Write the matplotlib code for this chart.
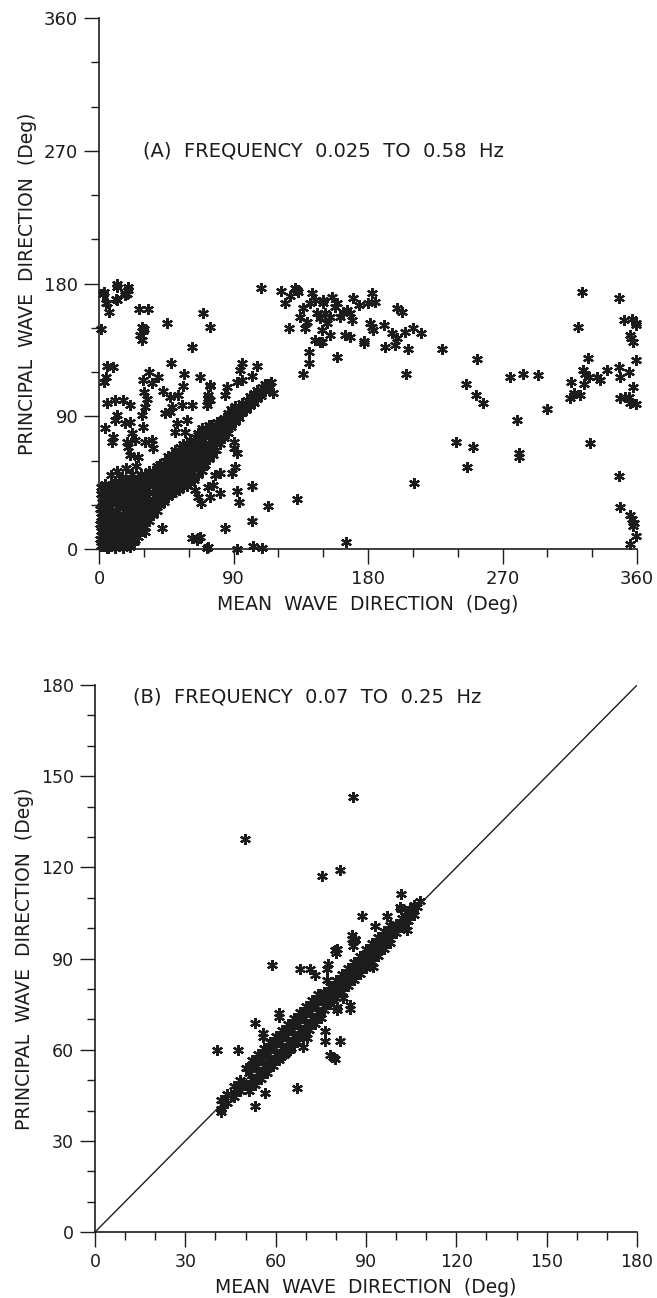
import matplotlib.pyplot as plt
from matplotlib.ticker import MultipleLocator

plt.rcParams['font.family'] = ['DejaVu Sans']

INK = '#1c1c1c'

# ---- panel A : 0.025 - 0.58 Hz ----
# thick cluster from the origin along the diagonal (one line per column of the cluster)
a_band_x = [1, 0.5, 1.5, 0.8, 1.2, 0.6, 1.7, 1, 1.4,
            3.2, 3.8, 3.5, 3.1, 3.9, 3.3, 3.6, 3.4, 3.7,
            6, 6.3, 5.8, 6.2, 5.9, 6.4, 6.1, 5.7, 6.3,
            8.6, 8.2, 8.8, 8.4, 8.7, 8.3, 8.9, 8.5, 8.2,
            11, 11.3, 10.8, 11.2, 10.9, 11.4, 11.1, 10.7, 11.3, 11,
            13.6, 13.2, 13.8, 13.4, 13.7, 13.3, 13.9, 13.5, 13.2,
            16, 16.3, 15.8, 16.2, 15.9, 16.4, 16.1, 15.7, 16.3, 16,
            18.6, 18.2, 18.8, 18.4, 18.7, 18.3, 18.9, 18.5, 18.2,
            21, 21.3, 20.8, 21.2, 20.9, 21.4, 21.1, 20.7, 21.3, 21,
            23.6, 23.2, 23.8, 23.4, 23.7, 23.3, 23.9, 23.5, 23.2,
            26, 26.3, 25.8, 26.2, 25.9, 26.4, 26.1, 25.7, 26.3,
            28.6, 28.2, 28.8, 28.4, 28.7, 28.3, 28.9, 28.5, 28.2,
            31, 31.3, 30.8, 31.2, 30.9, 31.4, 31.1, 30.7,
            33.6, 33.2, 33.8, 33.4, 33.7, 33.3, 33.9, 33.5,
            36, 36.3, 35.8, 36.2, 35.9, 36.4, 36.1,
            38.6, 38.2, 38.8, 38.4, 38.7, 38.3, 38.9,
            41, 41.3, 40.8, 41.2, 40.9, 41.4, 41.1,
            43.6, 43.2, 43.8, 43.4, 43.7, 43.3, 43.9,
            46, 46.3, 45.8, 46.2, 45.9, 46.4, 46.1,
            48.6, 48.2, 48.8, 48.4, 48.7, 48.3, 48.9,
            51, 51.3, 50.8, 51.2, 50.9, 51.4, 51.1,
            53.6, 53.2, 53.8, 53.4, 53.7, 53.3, 53.9,
            56, 56.3, 55.8, 56.2, 55.9, 56.4, 56.1,
            58.6, 58.2, 58.8, 58.4, 58.7, 58.3, 58.9,
            61, 61.3, 60.8, 61.2, 60.9, 61.4, 61.1,
            63.6, 63.2, 63.8, 63.4, 63.7, 63.3, 63.9,
            66, 66.3, 65.8, 66.2, 65.9, 66.4, 66.1,
            68.6, 68.2, 68.8, 68.4, 68.7, 68.3, 68.9,
            71, 71.3, 70.8, 71.2, 70.9, 71.4,
            73.6, 73.2, 73.8, 73.4, 73.7, 73.3,
            76, 76.3, 75.8, 76.2, 75.9,
            78.6, 78.2, 78.8, 78.4, 78.7,
            81, 81.3, 80.8, 81.2,
            83.6, 83.2, 83.8, 83.4,
            86, 86.3, 85.8, 86.2,
            88.6, 88.2, 88.8, 88.4,
            91, 91.3, 90.8, 91.2,
            93.6, 93.2, 93.8,
            96, 96.3, 95.8,
            98.6, 98.2, 98.8,
            101, 101.3, 100.8,
            103.6, 103.2, 103.8,
            106, 106.3, 105.8,
            108.6, 108.2, 108.8,
            111, 111.3, 110.8,
            113.6, 113.2, 115]
a_band_y = [2, 7, 12, 17, 22, 27, 32, 37, 42,
            4.5, 9.5, 14.5, 19.5, 24.5, 29.5, 34.5, 39.5, 44,
            1, 6, 11, 16, 21, 26, 31, 36, 41,
            3.5, 8.5, 13.5, 18.5, 23.5, 28.5, 33.5, 38.5, 43,
            1, 6, 11, 16, 21, 26, 31, 36, 41, 46,
            3.5, 8.5, 13.5, 18.5, 23.5, 28.5, 33.5, 38.5, 43.5,
            1, 6, 11, 16, 21, 26, 31, 36, 41, 46,
            3.5, 8.5, 13.5, 18.5, 23.5, 28.5, 33.5, 38.5, 43.5,
            2, 7, 12, 17, 22, 27, 32, 37, 42, 47,
            5, 10, 15, 20, 25, 30, 35, 40, 45,
            8, 13, 18, 23, 28, 33, 38, 43, 48,
            12, 17, 22, 27, 32, 37, 42, 47, 51,
            15, 20, 25, 30, 35, 40, 45, 50,
            19, 24, 29, 34, 39, 44, 49, 53,
            23, 28, 33, 38, 43, 48, 53,
            26, 31, 36, 41, 46, 51, 56,
            30, 35, 40, 45, 50, 55, 58,
            32, 37, 42, 47, 52, 57, 60,
            35, 40, 45, 50, 55, 60, 63,
            37, 42, 47, 52, 57, 62, 64,
            39, 44, 49, 54, 59, 64, 67,
            40, 45, 50, 55, 60, 65, 69,
            42, 47, 52, 57, 62, 67, 71,
            43, 48, 53, 58, 63, 68, 72,
            45, 50, 55, 60, 65, 70, 74,
            47, 52, 57, 62, 67, 72, 76,
            50, 55, 60, 65, 70, 75, 79,
            53, 58, 63, 68, 73, 78, 82,
            57, 62, 67, 72, 77, 82,
            61, 66, 71, 76, 81, 84,
            64, 69, 74, 79, 84,
            67, 72, 77, 82, 86,
            71, 76, 81, 86,
            75, 80, 85, 89,
            79, 84, 89, 92,
            83, 87, 91, 95,
            86, 90, 94, 97,
            89, 93, 97,
            92, 96, 99,
            94, 98, 101,
            97, 100.5, 104,
            99, 103, 106,
            102, 105, 108,
            104, 107.5, 110,
            107, 110, 112,
            109, 112, 113]

# scattered points
a_out_x = [2.9, 5.3, 12, 12, 17.4, 19.4, 18.7, 11.8, 19.6, 17.6, 3.3, 4.7, 11.2, 6.7, 1.3, 26.8, 32.8,
           28.6, 29.7, 27.4, 28.6, 30, 45.3, 69.4, 74.3, 62, 48.2, 5.1, 9.6, 4.5, 3.5, 33.7, 39.3, 29.7,
           35.7, 57.1, 67.6, 56.4, 74.3, 30.3, 31.9, 43, 47.5, 53, 73, 74.3, 5.1, 10.7, 16.3, 20.7, 48.7,
           55.3, 62, 4, 8.5, 9.6, 10.7, 11.8, 17.4, 20.7, 21.9, 18.5, 19.6, 20.7, 26.3, 24.1, 29.7, 30.8,
           35.3, 36.3, 15.2, 42, 24, 30.8, 62, 66.5, 65.4, 73, 5.1, 20.7, 64.3, 66.5, 68.3, 74.3, 73.2,
           52, 58.7, 50.9, 57.6, 66.5, 70.9, 70.9, 69.8, 44.2, 47.5, 28.6, 30.8, 8, 12, 15, 18, 22, 25,
           108.4, 121.8, 124.5, 127.8, 131.2, 133.4, 132.3, 127.4, 134.5, 136.8, 139, 141.2, 142.4,
           144.6, 145.7, 147.9, 150.1, 152.4, 144.6, 147.9, 137.9, 140.8, 140.6, 136.8, 95.5, 94.4,
           95.5, 92.2, 105.6, 102.2, 85.5, 84.3, 74.3, 73.2, 72.1, 116.7, 90, 90, 92.2, 91, 88.8, 81,
           77.6, 102.2, 92.2, 93.9, 81, 76.5, 112.9, 132.7, 102.2, 84.3, 72.1, 92.2, 103.3, 108.9, 67.6,
           150.1, 155.8, 159.1, 151.3, 154.6, 161.3, 165.8, 168, 169.1, 149, 149, 152.4, 158, 163.5,
           170.2, 174.2, 180.3, 182.5, 184.7, 181, 182.5, 183.6, 154.6, 164.7, 168, 177, 177.4, 159.1,
           191, 195.9, 199.3, 191.4, 198.1, 204.8, 210, 215.3, 199.3, 202.6, 207, 205.5, 229.8, 210.8,
           165.1, 252.8, 245.6, 252.1, 256.6, 239, 250.5, 246.5,
           275.1, 283.6, 293.4, 279.6, 281.3, 281.3, 299.7, 323.1, 320.2, 326.9, 323.8, 325.3, 327.5,
           324.2, 315.7, 317.5, 321.5, 315.3, 333.1, 335.3, 339.8, 328.2, 347.6, 351, 356.5, 359, 359.5,
           355, 355.9, 357, 359.2, 347.6, 348.7, 354.3, 357, 348.7, 352.1, 354.3, 355, 359, 347.6, 348.7,
           355.4, 356.5, 357.6, 357.2, 359, 355.4]
a_out_y = [173, 167, 178, 169, 172, 176, 173, 179.7, 177.6, 173.6, 174, 167, 169.5, 160.7, 149, 163,
           162.7, 150.7, 147.8, 145, 141.7, 149, 153.4, 160, 150.7, 137, 126.3, 124, 123.4, 117, 113.4,
           120, 116.8, 114.6, 112.3, 118.6, 116.4, 110.5, 110.5, 106.6, 102, 107.3, 103, 104.4, 104.4,
           101, 99, 101, 101, 97.6, 96.5, 97.6, 97.6, 81.8, 72.7, 76.1, 87.5, 90.8, 85.2, 86.3, 78.4,
           72.7, 69.4, 63.7, 62.6, 73.9, 82.9, 72.7, 73.9, 68.3, 49, 14, 6, 11.7, 7.2, 7.2, 6.1, 1.6,
           0.7, 1.6, 40, 35.5, 31, 35.5, 42.3, 85.2, 87.5, 79.5, 79.5, 77.3, 78.4, 60.3, 55.8, 92, 93,
           90.8, 96.5, 50, 53, 48, 55, 51, 56,
           176.7, 175, 167, 171.5, 176.7, 174.4, 176, 149.6, 157.5, 163.2, 154.1, 166.6, 173.4, 168.8,
           159.8, 156.4, 166.6, 153, 141.7, 140.5, 149.6, 133.8, 125.9, 118.6, 126.3, 121.4, 114.6,
           113.4, 124, 117.3, 110, 104.4, 111.2, 102.2, 97.6, 105.6, 72.7, 68.3, 64.9, 55.8, 51.3,
           51.3, 50.2, 42.7, 39.3, 31.7, 38.2, 43.4, 29.2, 33.7, 19, 14, 0.5, 0, 2, 0.5, 8.3,
           168.8, 171, 166.6, 159.8, 157.5, 157.5, 162, 159.8, 155.2, 148.5, 140.5, 153, 164.3, 160.9,
           170.4, 165.4, 166.6, 173.4, 167.7, 153.4, 150.7, 148.5, 145, 145, 144, 141.2, 139.9, 130.4,
           151.9, 146.2, 142.8, 137.2, 138.3, 147.3, 149.6, 146.2, 163.8, 160.9, 135.4, 118.6, 135.4,
           44.5, 5, 128.6, 111.9, 104.4, 99.2, 72.3, 69.4, 55.8,
           116.8, 118.6, 118, 87.5, 65.3, 62.6, 94.7, 174.4, 150.3, 129.3, 121.4, 118.6, 116.8, 111.9,
           113.4, 106, 104.4, 102.2, 116.4, 114.6, 121.4, 71.7, 170.4, 155.2, 155.7, 151.9, 153, 145,
           142.8, 140.5, 128, 123.2, 116.8, 120.2, 110, 102.2, 102.9, 103.3, 99.2, 98.3, 49.7, 28.3,
           23, 20.1, 17.4, 15.6, 9, 3.4]

# ---- panel B : 0.07 - 0.25 Hz ----
b_band_x = [42, 44, 46, 48, 50, 52, 54, 56, 58, 60, 62, 64, 66, 68, 70, 72, 74, 76, 78, 80, 82, 84,
            86, 88, 90, 92, 94, 96, 98, 100, 102, 104, 106, 108,
            43, 45, 47, 49, 51, 53, 55, 57, 59, 61, 63, 65, 67, 69, 71, 73, 75, 77, 79, 81, 83, 85,
            87, 89, 91, 93, 95, 97, 99, 101, 103, 105, 107,
            42, 44, 46, 48, 50, 52, 54, 56, 58, 60, 62, 64, 66, 68, 70, 72, 74, 76, 78, 80, 82, 84,
            86, 88, 90, 92, 94, 96, 98, 100, 102, 104, 106,
            51, 53, 55, 57, 59, 61, 63, 65, 67, 69, 71, 73, 75,
            51, 53, 55, 57, 59, 61, 63, 65, 67, 69, 71, 73, 75,
            52, 54, 56, 58, 60, 62, 64, 66, 68, 70, 72, 74,
            77, 79, 81, 83, 85, 87, 89, 91, 93, 95, 97, 99,
            76, 78, 80, 82, 84, 86, 88, 90, 92, 94, 96, 98]
b_band_y = [43.5, 45.5, 48, 50, 54, 56.5, 58.5, 60.5, 62.5, 64.5, 66.5, 68.5, 70.5, 72.5, 74.5, 76.5,
            78.5, 79, 81, 83, 85, 87, 89, 91, 93, 95, 97, 99, 101, 101.5, 103.5, 105.5, 107.5, 109,
            43, 45, 47, 49, 52.5, 54.5, 56.5, 58.5, 60.5, 62.5, 64.5, 66.5, 68.5, 70.5, 72.5, 74.5,
            76.5, 77, 79, 81, 83, 85, 87, 89, 91, 93, 95, 97, 99, 101, 103, 105, 107,
            40.5, 42.5, 44.5, 46.5, 48.5, 50.5, 52.5, 54.5, 56.5, 58.5, 60.5, 62.5, 64.5, 66.5, 68.5,
            70.5, 72.5, 73, 75, 77, 79, 81, 83, 85, 87, 89, 91, 93, 95, 98.5, 100.5, 102.5, 104.5,
            46.5, 48.5, 50.5, 52.5, 54.5, 56.5, 58.5, 60.5, 62.5, 64.5, 66.5, 68.5, 70.5,
            54, 56, 58, 60, 62, 64, 66, 68, 70, 72, 74, 76, 78,
            49, 51, 53, 55, 57, 59, 61, 63, 65, 67, 69, 71,
            78.5, 80.5, 82.5, 84.5, 86.5, 88.5, 90.5, 92.5, 94.5, 96.5, 98.5, 100.5,
            74.5, 76.5, 78.5, 80.5, 82.5, 84.5, 86.5, 88.5, 90.5, 92.5, 94.5, 96.5]

b_out_x = [49.8, 75.3, 58.7, 68.1, 71.4, 73.1, 77.2, 40.6, 47.6, 53.2, 55.9, 61.2, 41.8, 53.2, 56.5,
           67, 76.4, 76.4, 78.1, 85.8, 81.4, 101.5, 88.6, 96.9, 101.5, 104.6, 80, 85.2, 86.3, 92.4,
           103.5, 80.3, 84.7, 81.4, 79.2, 79.7, 61.1, 55.9, 79.7, 80.3, 101.3, 103, 93, 98, 85.3,
           86.3, 85.8, 80.3, 91.9, 77.5, 77, 82.5, 84.7, 69, 70.3, 62.8, 64.8, 61, 58]
b_out_y = [129.3, 117.1, 88, 86.7, 86.7, 84.6, 86.7, 59.9, 59.9, 68.7, 64.3, 70.7, 39.5, 41.6, 45.8,
           47.4, 66.3, 63, 58.2, 143.3, 119.2, 111.4, 104, 104, 106.3, 106.3, 91.8, 96.4, 96.1, 87.3,
           99.5, 73.1, 73.4, 63, 57.6, 56.9, 72, 65.4, 92.8, 74.2, 107, 100.7, 100.7, 99.4, 97.7,
           96.6, 94.1, 93, 89, 88.2, 82.9, 76.9, 74.7, 61, 63.8, 58.2, 59.9, 57.6, 55.5]

b_line = [0, 180]

fig = plt.figure(figsize=(6.57, 12.98), dpi=100)
ax_a = fig.add_axes([0.1507, 0.577, 0.819, 0.409])
ax_b = fig.add_axes([0.1446, 0.0508, 0.825, 0.4214])

mk = dict(marker=(6, 2, 0), ms=7.8, mew=1.6, ls='none', color=INK, mec=INK, clip_on=False)


def style_axes(ax, lim, major, minor, tick_size):
    ax.set_xlim(0, lim)
    ax.set_ylim(0, lim)
    for s in ('top', 'right'):
        ax.spines[s].set_visible(False)
    for s in ('left', 'bottom'):
        ax.spines[s].set_linewidth(1.2)
        ax.spines[s].set_color(INK)
    ax.xaxis.set_major_locator(MultipleLocator(major))
    ax.yaxis.set_major_locator(MultipleLocator(major))
    ax.xaxis.set_minor_locator(MultipleLocator(minor))
    ax.yaxis.set_minor_locator(MultipleLocator(minor))
    ax.tick_params(which='major', direction='out', length=11, width=1.0, color=INK,
                   labelsize=tick_size, labelcolor=INK, pad=4)
    ax.tick_params(which='minor', direction='out', length=6, width=1.0, color=INK)
    ax.set_xlabel('MEAN  WAVE  DIRECTION  (Deg)', fontsize=13.5, color=INK, labelpad=5)
    ax.set_ylabel('PRINCIPAL  WAVE  DIRECTION  (Deg)', fontsize=13.5, color=INK, labelpad=5)


ax_a.plot(a_band_x, a_band_y, **mk)
ax_a.plot(a_out_x, a_out_y, **mk)
style_axes(ax_a, 360, 90, 30, 13)
ax_a.text(29.5, 270, '(A)  FREQUENCY  0.025  TO  0.58  Hz', fontsize=14, color=INK, va='center')

ax_b.plot(b_line, b_line, color=INK, lw=1.0)
ax_b.plot(b_band_x, b_band_y, **mk)
ax_b.plot(b_out_x, b_out_y, **mk)
style_axes(ax_b, 180, 30, 10, 12.5)
ax_b.text(12.5, 176, '(B)  FREQUENCY  0.07  TO  0.25  Hz', fontsize=14, color=INK, va='center')

fig.savefig('out.png', dpi=100)
